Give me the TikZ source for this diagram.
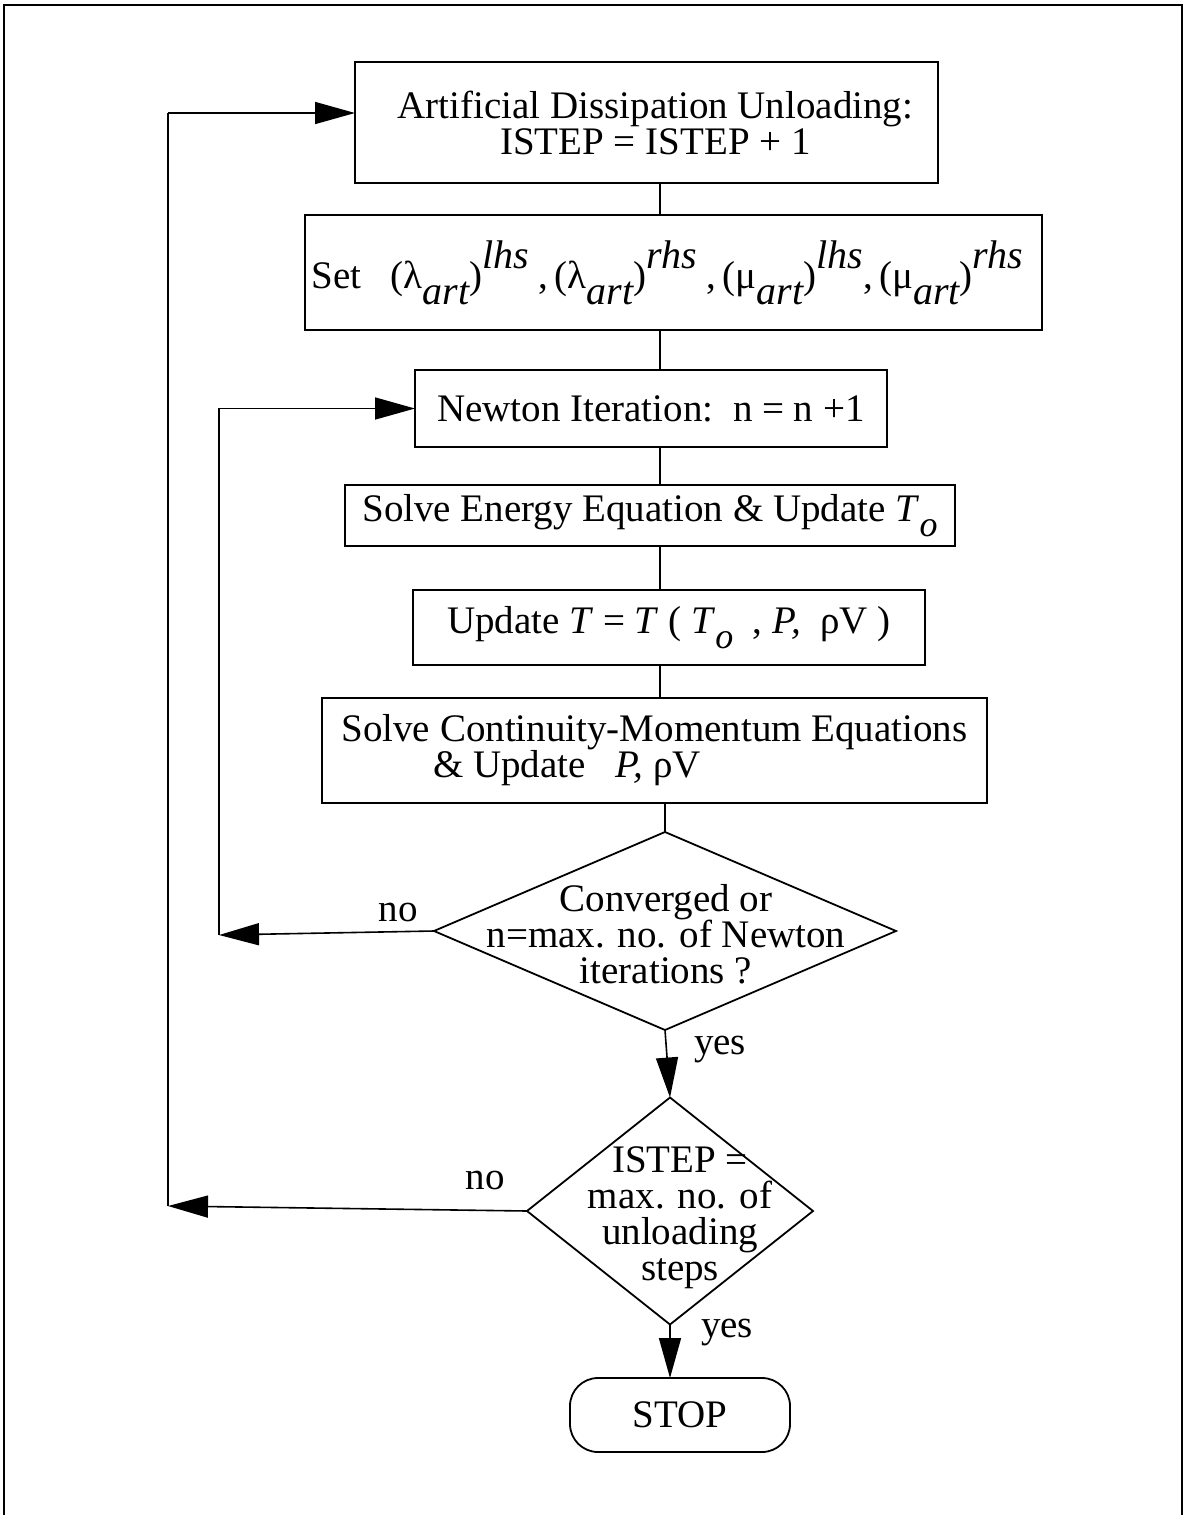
\documentclass[tikz,border=0pt]{standalone}
\usepackage{fontspec}
\setmainfont{Liberation Serif}
\usetikzlibrary{arrows.meta,shapes.geometric,calc}
\newcommand{\sbs}[1]{\raisebox{-0.38em}{\fontsize{36}{36}\selectfont\itshape #1}}
\newcommand{\sps}[1]{\raisebox{0.5em}{\fontsize{36}{36}\selectfont\itshape #1}}
\newcommand{\gsb}[1]{\raisebox{-0.4em}{\fontsize{40}{40}\selectfont\itshape #1}}
\newcommand{\gsp}[1]{\raisebox{0.52em}{\fontsize{40}{40}\selectfont\itshape #1}}
\newcommand{\grp}[2]{(#1\gsb{art})\gsp{#2}}
\begin{document}
\begin{tikzpicture}[x=1pt,y=-1pt,
  every node/.style={font=\fontsize{39}{36}\selectfont},
  box/.style={draw,line width=1.8pt,rectangle,inner sep=0pt,outer sep=0pt,align=center},
  dia/.style={draw,line width=1.8pt,diamond,inner sep=0pt,outer sep=0pt},
  term/.style={draw,line width=1.8pt,rectangle,rounded corners=28pt,inner sep=0pt,outer sep=0pt},
  conn/.style={line width=1.6pt},
  arr/.style={line width=1.6pt,-{Triangle[length=40pt,width=22pt]}},
  lbl/.style={inner sep=0pt}]
\useasboundingbox (0,0) rectangle (1185,1515);
% frame
\draw[line width=2pt] (4,1515) -- (4,5) -- (1182,5) -- (1182,1515);
\coordinate (sp) at (660,0);
% boxes
\node[box,minimum width=583pt,minimum height=121pt] (n1) at (646.5,122.5) {\hspace*{18pt}Artificial Dissipation Unloading:\\\hspace*{18pt}ISTEP = ISTEP + 1};
\node[box,minimum width=737pt,minimum height=115pt] (n2) at (673.5,272.5) {\hspace*{-12pt}Set\ \ \ \grp{λ}{lhs}\ ,\,\grp{λ}{rhs}\ ,\,\grp{μ}{lhs},\,\grp{μ}{rhs}};
\node[box,minimum width=472pt,minimum height=77pt] (n3) at (651,408.5) {Newton Iteration:\ \ n = n +1};
\node[box,minimum width=610pt,minimum height=61pt] (n4) at (650,515.5) {Solve Energy Equation \& Update \textit{T}\sbs{o}};
\node[box,minimum width=512pt,minimum height=75pt] (n5) at (669,627.5) {Update \textit{T} = \textit{T} ( \textit{T}\sbs{o}\ \ , \textit{P,}\ \ ρV )};
\node[box,minimum width=665pt,minimum height=105pt,align=left] (n6) at (654.5,750.5) {Solve Continuity-Momentum Equations\\\hspace*{2.35em}\& Update\ \ \ \textit{P,} ρV};
% decisions
\node[dia,minimum width=462pt,minimum height=198pt] (d1) at (665,931) {};
\node[align=center,inner sep=0pt] (d1t) at (666,934) {Converged or\\n=max. no. of Newton\\iterations ?};
\node[dia,minimum width=286pt,minimum height=227pt] (d2) at (670,1211) {};
\node[align=center,inner sep=0pt] (d2t) at (680,1218) {ISTEP =\\max. no. of\\unloading\\steps};
\node[term,minimum width=220pt,minimum height=74pt] (stop) at (680,1415) {STOP};
% connectors
\draw[conn] (n1.south -| sp) -- (n2.north -| sp);
\draw[conn] (n2.south -| sp) -- (n3.north -| sp);
\draw[conn] (n3.south -| sp) -- (n4.north -| sp);
\draw[conn] (n4.south -| sp) -- (n5.north -| sp);
\draw[conn] (n5.south -| sp) -- (n6.north -| sp);
\draw[conn] (n6.south -| d1.north) -- (d1.north);
\draw[arr] (d1.south) -- (d2.north);
\draw[arr] (d2.south) -- (stop.north -| d2.south);
% loop back to Newton
\coordinate (c1) at (219,935);
\draw[arr] (d1.west) -- (c1);
\draw[arr] (c1) |- (n3.west);
% loop back to unloading
\coordinate (c3) at (168,1206);
\coordinate (c4) at (168,113);
\draw[arr] (d2.west) -- (c3);
\draw[conn] (c3) -- (c4);
\draw[arr] (c4) -- (c4 -| n1.west);
% labels
\node[lbl] (no1) at (398,912) {no};
\node[lbl] (no2) at (485,1180) {no};
\node[lbl] (yes1) at (720,1050) {yes};
\node[lbl] (yes2) at (727,1333) {yes};
\end{tikzpicture}
\end{document}
